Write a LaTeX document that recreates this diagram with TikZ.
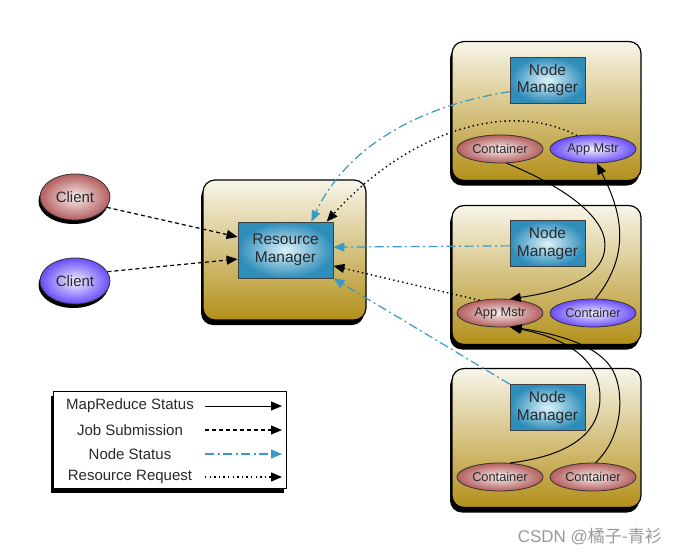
\documentclass[tikz,border=0pt]{standalone}
\usepackage{fontspec}
\setmainfont{Liberation Sans}
\newfontfamily\cjk{Noto Sans CJK SC}
\usetikzlibrary{arrows.meta,shadows,calc,shapes.geometric}
\definecolor{boxtop}{HTML}{F8F5EA}
\definecolor{boxbot}{HTML}{B3901A}
\definecolor{mgrin}{HTML}{DDF3FA}
\definecolor{mgrout}{HTML}{2F8DBA}
\definecolor{redin}{HTML}{F8EEEE}
\definecolor{redout}{HTML}{B45E5E}
\definecolor{bluin}{HTML}{F2F0FF}
\definecolor{bluout}{HTML}{6A4CF8}
\definecolor{nsblue}{HTML}{3A9AC6}
\definecolor{txt}{HTML}{2A2A2A}
\tikzset{
  bigbox/.style={draw=black, line width=1.2pt, rounded corners=12pt, top color=boxtop, bottom color=boxbot, minimum width=189pt, minimum height=139pt, inner sep=0pt,
    drop shadow={shadow xshift=-2pt, shadow yshift=-5pt, fill=black, opacity=1}},
  mgr/.style={draw=black!75, line width=0.8pt, inner color=mgrin, outer color=mgrout, align=center, text=txt, inner sep=0pt,
    font=\fontsize{15.5}{17.5}\selectfont},
  ell/.style={ellipse, draw=black!80, line width=0.8pt, minimum width=86pt, minimum height=28pt, inner sep=0pt, text=txt,
    font=\fontsize{12.8}{14}\selectfont},
  redell/.style={ell, inner color=redin, outer color=redout},
  bluell/.style={ell, inner color=bluin, outer color=bluout},
  client/.style={ell, minimum width=70pt, minimum height=46pt, font=\fontsize{15}{16}\selectfont,
    drop shadow={shadow xshift=-1.5pt, shadow yshift=-4pt, fill=black, opacity=1}},
  tip/.style={-{Triangle[length=11pt,width=9pt]}},
  mrs/.style={tip, line width=1pt, black},
  job/.style={tip, line width=1.2pt, black, dash pattern=on 4pt off 3pt},
  nst/.style={tip, line width=1.2pt, nsblue, dash pattern=on 9pt off 3.5pt on 2pt off 3.5pt},
  rrq/.style={tip, line width=1.4pt, black, dash pattern=on 1.4pt off 3.2pt},
  legtext/.style={text=txt, font=\fontsize{15}{16}\selectfont, inner sep=0pt},
}
\begin{document}
\begin{tikzpicture}[x=1pt,y=-1pt]
\useasboundingbox[fill=white] (0,0) rectangle (678,555);

% big boxes
\node[bigbox] (b1) at (546.5,111) {};
\node[bigbox] (b2) at (546.5,275) {};
\node[bigbox] (b3) at (546.5,438) {};
\node[bigbox, minimum width=163pt, minimum height=140pt] (brm) at (284.5,250) {};

% managers
\node[mgr, minimum width=95pt, minimum height=56pt] (rm) at (285.5,250) {Resource\\Manager};
\node[mgr, minimum width=75pt, minimum height=46pt] (nm1) at (547.5,80) {Node\\Manager};
\node[mgr, minimum width=75pt, minimum height=46pt] (nm2) at (547.5,243.5) {Node\\Manager};
\node[mgr, minimum width=75pt, minimum height=46pt] (nm3) at (547.5,407.5) {Node\\Manager};

% ellipses
\node[redell] (ct1) at (500,149) {Container};
\node[bluell] (am1) at (593,149) {App Mstr};
\node[redell] (am2) at (500,313) {App Mstr};
\node[bluell] (ct2) at (593,313) {Container};
\node[redell] (ct3a) at (500,477) {Container};
\node[redell] (ct3b) at (593,477) {Container};

% clients
\node[client, inner color=redin, outer color=redout] (c1) at (75,197) {Client};
\node[client, inner color=bluin, outer color=bluout] (c2) at (75,281) {Client};

% job submission
\draw[job] (c1.-18) -- ($(rm.north west)!0.27!(rm.south west)$);
\draw[job] (c2.16) -- ($(rm.north west)!0.66!(rm.south west)$);

% node status
\draw[nst] ($(nm1.north west)!0.75!(nm1.south west)$) .. controls (430,104) and (350,140) .. ($(rm.north west)!0.77!(rm.north east)$);
\draw[nst] ($(nm2.north west)!0.55!(nm2.south west)$) -- ($(rm.north east)!0.45!(rm.south east)$);
\draw[nst] (nm3.north west) -- (rm.south east);

% resource request
\draw[rrq] (am1.140) .. controls (505,98) and (405,135) .. ($(rm.north west)!0.93!(rm.north east)$);
\draw[rrq] (am2.148) -- ($(rm.north east)!0.78!(rm.south east)$);

% mapreduce status
\draw[mrs] (ct1.-65) .. controls (560,185) and (605,215) .. (605,245) .. controls (605,275) and (570,290) .. (am2.55);
\draw[mrs] (ct2.80) .. controls (635,250) and (618,205) .. (am1.-75);
\draw[mrs] (ct3a.55) .. controls (575,455) and (600,430) .. (600,397) .. controls (600,365) and (575,340) .. (am2.-55);
\draw[mrs] (ct3b.80) .. controls (620,440) and (625,400) .. (615,375) .. controls (605,350) and (570,336) .. (am2.-52);

% legend
\node[draw=black, line width=1pt, fill=white, minimum width=233pt, minimum height=97pt, inner sep=0pt,
  drop shadow={shadow xshift=-2pt, shadow yshift=-5pt, fill=black, opacity=1}] (leg) at (169.5,439.5) {};
\node[legtext] (l1) at (130,406) {MapReduce Status};
\node[legtext] (l2) at (130,430) {Job Submission};
\node[legtext] (l3) at (130,454) {Node Status};
\node[legtext] (l4) at (130,477) {Resource Request};
\coordinate (e1s) at (205,406); \coordinate (e1e) at (282,406);
\coordinate (e2s) at (205,430); \coordinate (e2e) at (282,430);
\coordinate (e3s) at (205,454); \coordinate (e3e) at (282,454);
\coordinate (e4s) at (205,477); \coordinate (e4e) at (282,477);
\draw[mrs] (e1s) -- (e1e);
\draw[job] (e2s) -- (e2e);
\draw[nst] (e3s) -- (e3e);
\draw[rrq] (e4s) -- (e4e);

% watermark
\node[text=black!40, font=\fontsize{17}{19}\selectfont, inner sep=0pt, anchor=east] (wm) at (662,537) {CSDN @{\cjk 橘子-青衫}};
\end{tikzpicture}
\end{document}
